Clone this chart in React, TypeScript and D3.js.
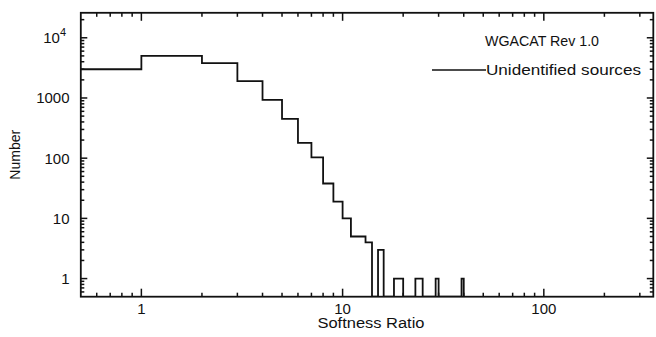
import React from "react";
import * as d3 from "d3";

// Histogram of softness ratio: bin i covers [binLeft[i], binLeft[i]+1)
const binLeft = [0, 1, 2, 3, 4, 5, 6, 7, 8, 9, 10, 11, 12, 13, 14, 15, 16, 17, 18, 19, 20, 21, 22, 23, 24, 25, 26, 27, 28, 29, 30, 31, 32, 33, 34, 35, 36, 37, 38, 39];
const counts = [3000, 5000, 3800, 1900, 930, 450, 180, 103, 38, 19, 10, 5, 5, 4, 0, 3, 0, 0, 1, 1, 0, 0, 0, 1, 1, 0, 0, 0, 0, 1, 0, 0, 0, 0, 0, 0, 0, 0, 0, 1];

const xMajor = [1, 10, 100];
const xMajorLabels = ["1", "10", "100"];
const yMajor = [1, 10, 100, 1000, 10000];
const yMajorLabels = ["1", "10", "100", "1000", "10^4"];

const xDomain = [0.5, 350];
const yDomain = [0.5, 26000];

const title = "WGACAT Rev 1.0";
const seriesName = "Unidentified sources";
const xTitle = "Softness Ratio";
const yTitle = "Number";

const W = 656;
const H = 337;
const L = 80.8;
const R = 653.3;
const T = 12.8;
const B = 296.7;
const FONT = "'Liberation Sans', Arial, Helvetica, sans-serif";
const SW = 1.8;

export default function App() {
  const x = d3.scaleLog().domain(xDomain).range([L, R]);
  const y = d3.scaleLog().domain(yDomain).range([B, T]);

  const pts: [number, number][] = binLeft.map((b, i) => [Math.max(b, xDomain[0]), counts[i]]);
  const lastEdge = binLeft[binLeft.length - 1] + 1;
  pts.push([lastEdge, 0]);
  const line = d3
    .line<[number, number]>()
    .x((d) => x(d[0]))
    .y((d) => (d[1] > 0 ? y(d[1]) : B))
    .curve(d3.curveStepAfter);
  const pathD = line(pts) || "";

  const xMinor = x.ticks().filter((t) => !xMajor.some((m) => Math.abs(m - t) < 1e-9) && t > xDomain[0]);
  const yMinor = y.ticks().filter((t) => !yMajor.some((m) => Math.abs(m - t) < 1e-9) && t > yDomain[0]);

  const xMajLen = 8, xMinLen = 4, yMajLen = 6.5, yMinLen = 3.5;

  return (
    <svg width={W} height={H} style={{ position: "absolute", left: 0, top: 0, background: "#fff" }}>
      <defs>
        <clipPath id="plotclip">
          <rect x={L} y={T} width={R - L} height={B - T} />
        </clipPath>
      </defs>
      <path d={pathD} fill="none" stroke="#111" strokeWidth={SW} clipPath="url(#plotclip)" strokeLinejoin="miter" />
      <rect x={L} y={T} width={R - L} height={B - T} fill="none" stroke="#111" strokeWidth={SW} />
      {/* x ticks bottom & top */}
      <g stroke="#111" strokeWidth={1.5}>
        {xMajor.map((t) => (
          <g key={"xM" + t}>
            <line x1={x(t)} x2={x(t)} y1={B} y2={B - xMajLen} />
            <line x1={x(t)} x2={x(t)} y1={T} y2={T + xMajLen} />
          </g>
        ))}
        {xMinor.map((t) => (
          <g key={"xm" + t}>
            <line x1={x(t)} x2={x(t)} y1={B} y2={B - xMinLen} />
            <line x1={x(t)} x2={x(t)} y1={T} y2={T + xMinLen} />
          </g>
        ))}
        {yMajor.map((t) => (
          <g key={"yM" + t}>
            <line x1={L} x2={L + yMajLen} y1={y(t)} y2={y(t)} />
            <line x1={R} x2={R - yMajLen} y1={y(t)} y2={y(t)} />
          </g>
        ))}
        {yMinor.map((t) => (
          <g key={"ym" + t}>
            <line x1={L} x2={L + yMinLen} y1={y(t)} y2={y(t)} />
            <line x1={R} x2={R - yMinLen} y1={y(t)} y2={y(t)} />
          </g>
        ))}
      </g>
      <g fontFamily={FONT} fontSize={15} fill="#111">
        {xMajor.map((t, i) => (
          <text key={"xl" + t} x={x(t)} y={B + 17} textAnchor="middle">
            {xMajorLabels[i]}
          </text>
        ))}
        {yMajor.map((t, i) => {
          const lab = yMajorLabels[i];
          if (lab.includes("^")) {
            const [base, exp] = lab.split("^");
            return (
              <text key={"yl" + t} x={66} y={y(t) + 5.5} textAnchor="end">
                {base}
                <tspan dy={-7} fontSize={11}>{exp}</tspan>
              </text>
            );
          }
          return (
            <text key={"yl" + t} x={69.5} y={y(t) + 5.5} textAnchor="end">
              {lab}
            </text>
          );
        })}
      </g>
      <g fontFamily={FONT} fontSize={14} fill="#111">
        <text x={371} y={328} textAnchor="middle" textLength={107} lengthAdjust="spacingAndGlyphs">
          {xTitle}
        </text>
        <text transform={`translate(19.5,${(T + B) / 2}) rotate(-90)`} textAnchor="middle">
          {yTitle}
        </text>
        <text x={485} y={45.5} textLength={114} lengthAdjust="spacingAndGlyphs">
          {title}
        </text>
        <line x1={432} x2={486} y1={70} y2={70} stroke="#111" strokeWidth={1.5} />
        <text x={486} y={75} textLength={155} lengthAdjust="spacingAndGlyphs">
          {seriesName}
        </text>
      </g>
    </svg>
  );
}
